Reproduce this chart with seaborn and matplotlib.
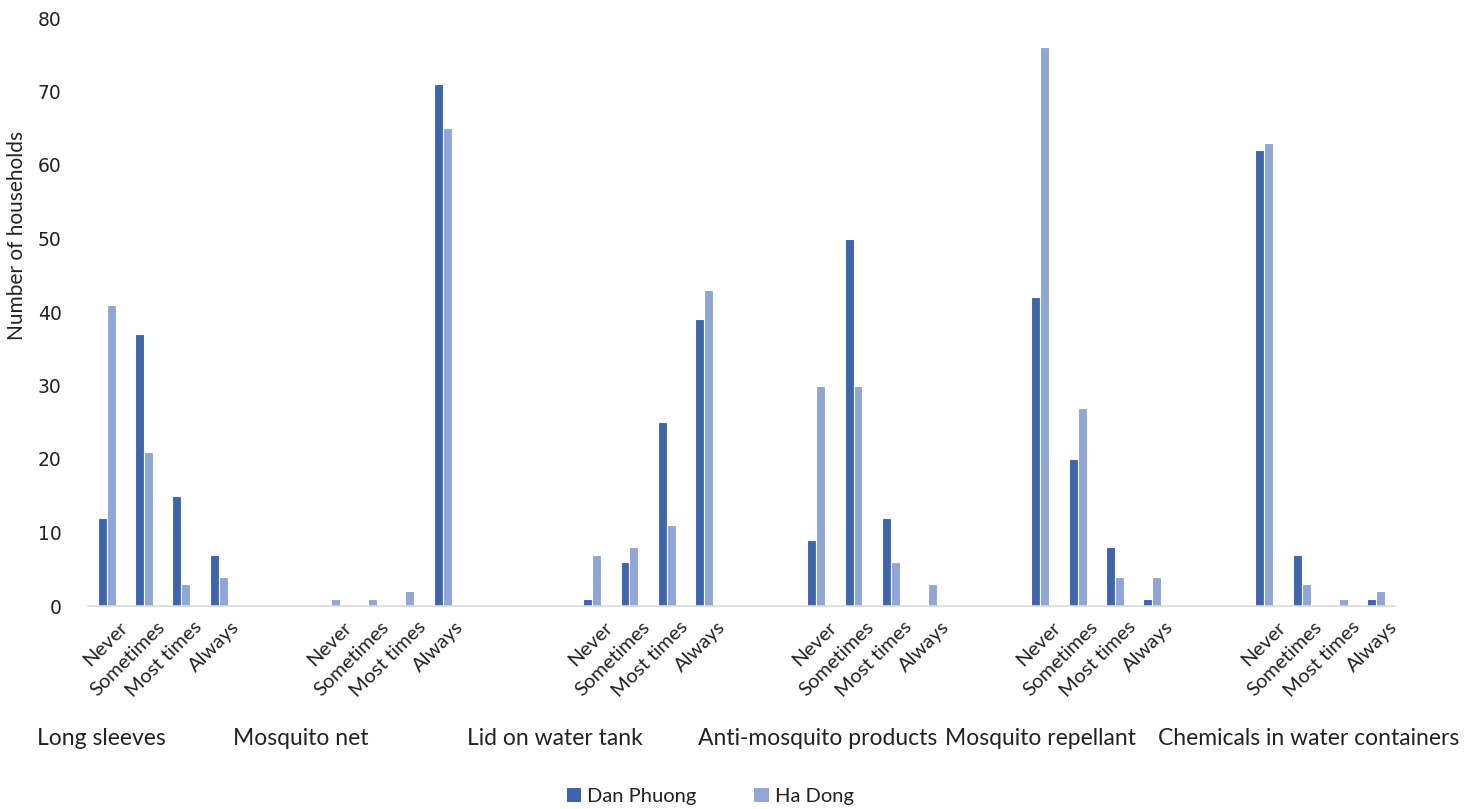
import numpy as np
import pandas as pd
import matplotlib
matplotlib.use("Agg")
import matplotlib.pyplot as plt
import matplotlib.transforms as mtransforms
from matplotlib.patches import Patch
import seaborn as sns

# --- data -----------------------------------------------------------------
practices = ["Long sleeves", "Mosquito net", "Lid on water tank",
             "Anti-mosquito products", "Mosquito repellant",
             "Chemicals in water containers"]
responses = ["Never", "Sometimes", "Most times", "Always"]
districts = ["Dan Phuong", "Ha Dong"]

dan_phuong = [
    [12, 37, 15, 7],
    [0, 0, 0, 71],
    [1, 6, 25, 39],
    [9, 50, 12, 0],
    [42, 20, 8, 1],
    [62, 7, 0, 1],
]
ha_dong = [
    [41, 21, 3, 4],
    [1, 1, 2, 65],
    [7, 8, 11, 43],
    [30, 30, 6, 3],
    [76, 27, 4, 4],
    [63, 3, 1, 2],
]

# --- layout: empty category slots between practice groups ------------------
gaps_after = [2, 3, 2, 2, 2]
starts = [0]
for g in gaps_after:
    starts.append(starts[-1] + len(responses) + g)
n_slots = starts[-1] + len(responses)

rows = []
for gi, practice in enumerate(practices):
    for ri, resp in enumerate(responses):
        slot = starts[gi] + ri
        rows.append(dict(slot=slot, response=resp, practice=practice,
                         district=districts[0], count=dan_phuong[gi][ri]))
        rows.append(dict(slot=slot, response=resp, practice=practice,
                         district=districts[1], count=ha_dong[gi][ri]))
df = pd.DataFrame(rows)

# --- figure ---------------------------------------------------------------
sns.set_theme(style="white")
plt.rcParams["font.family"] = ["Lato", "DejaVu Sans"]

W, H = 1467, 809
fig = plt.figure(figsize=(W / 100, H / 100), dpi=100)
ax = fig.add_axes([88 / W, (H - 606) / H, (1395 - 88) / W, (606 - 18) / H])

palette = {"Dan Phuong": "#3D64AE", "Ha Dong": "#8FA6D6"}
sns.barplot(data=df, x="slot", y="count", hue="district",
            hue_order=districts, palette=palette, native_scale=True,
            width=0.48, dodge=True, saturation=1, errorbar=None,
            edgecolor="white", linewidth=0.8, legend=False, ax=ax)

ax.set_xlim(-0.5, n_slots - 0.5)
ax.set_ylim(0, 80)
ax.set_yticks(np.arange(0, 81, 10))
ax.tick_params(axis="y", length=0, pad=19, labelsize=13.5)
for lab in ax.get_yticklabels():
    lab.set_fontfamily("DejaVu Sans")
    lab.set_color("#222222")

ax.set_ylabel("Number of households", fontsize=15, color="#222222")
ax.yaxis.set_label_coords(-0.047, 0.63)
ax.set_xlabel("")

# category ticks
tick_pos = df["slot"].unique()
tick_lab = [responses[i % len(responses)] for i in range(len(tick_pos))]
ax.set_xticks(tick_pos)
ax.set_xticklabels(tick_lab, rotation=45, ha="right",
                   rotation_mode="anchor", fontsize=14.5, color="#222222")
ax.tick_params(axis="x", length=0, pad=9)
shift = mtransforms.ScaledTranslation(12 / 100, 0, fig.dpi_scale_trans)
for lab in ax.get_xticklabels():
    lab.set_transform(lab.get_transform() + shift)

for s in ["top", "right", "left"]:
    ax.spines[s].set_visible(False)
ax.spines["bottom"].set_color("#D9D9D9")
ax.spines["bottom"].set_linewidth(1.2)
ax.grid(False)

# practice group labels under the categories
trans = mtransforms.blended_transform_factory(ax.transData, ax.transAxes)
label_shift = [-0.15, -0.8, -1.0, 0.05, 0.0, 1.2]
for gi, practice in enumerate(practices):
    ax.text(starts[gi] + label_shift[gi], -0.2245, practice, transform=trans,
            ha="center", va="center", fontsize=16.5, color="#222222")

handles = [Patch(facecolor=palette[d], edgecolor="none", label=d)
           for d in districts]
fig.legend(handles=handles, loc="center", bbox_to_anchor=(0.484, 0.016),
           ncol=2, frameon=False, fontsize=14.5, handlelength=0.7,
           handleheight=0.7, handletextpad=0.3, columnspacing=2.9,
           labelcolor="#222222")

fig.savefig("out.png", dpi=100, facecolor="white")
